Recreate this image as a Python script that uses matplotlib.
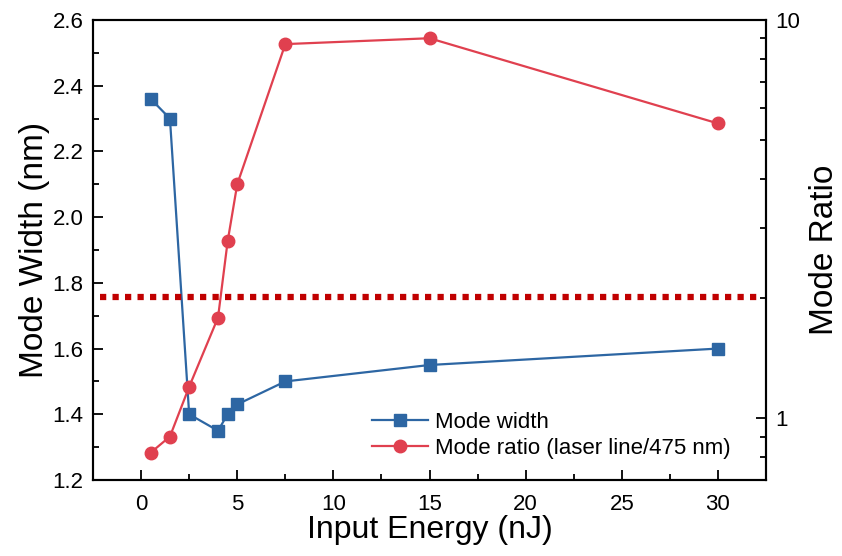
import matplotlib.pyplot as plt
from matplotlib.ticker import MultipleLocator, FixedLocator, NullFormatter

plt.rcParams['font.family'] = ['Liberation Sans', 'DejaVu Sans']

energy = [0.5, 1.5, 2.5, 4, 4.5, 5, 7.5, 15, 30]
mode_width = [2.36, 2.30, 1.40, 1.35, 1.40, 1.43, 1.50, 1.55, 1.60]
mode_ratio = [0.82, 0.90, 1.20, 1.79, 2.78, 3.87, 8.7, 9.0, 5.5]
threshold = 1.757

blue = "#2d66a3"
red = "#e0404f"

fig = plt.figure(figsize=(8.42, 5.56), dpi=100)
ax = fig.add_axes([0.1105, 0.1367, 0.7992, 0.8273])
ax2 = ax.twinx()

l1, = ax.plot(energy, mode_width, color=blue, marker="s", ms=9, lw=1.6,
              label="Mode width")
l2, = ax2.plot(energy, mode_ratio, color=red, marker="o", ms=9, lw=1.6,
               label="Mode ratio (laser line/475 nm)")
ax.axhline(threshold, xmin=0.01, xmax=0.99, color="#c00000", lw=4.5,
           ls=(0, (1, 1.0)))

ax.set_xlim(-2.5, 32.5)
ax.set_ylim(1.2, 2.6)
ax2.set_yscale("log")
ax2.set_ylim(0.7, 10)

ax.xaxis.set_major_locator(MultipleLocator(5))
ax.xaxis.set_minor_locator(MultipleLocator(2.5))
ax.yaxis.set_major_locator(MultipleLocator(0.2))
ax.yaxis.set_minor_locator(MultipleLocator(0.1))
ax.yaxis.set_major_formatter(plt.FormatStrFormatter("%.1f"))
ax2.yaxis.set_major_locator(FixedLocator([1, 10]))
ax2.yaxis.set_minor_locator(FixedLocator([0.7, 0.8, 0.9, 2, 3, 4, 5, 6, 7, 8, 9]))
ax2.yaxis.set_minor_formatter(NullFormatter())
ax2.yaxis.set_major_formatter(plt.FuncFormatter(lambda v, p: "%g" % v))

for a in (ax, ax2):
    a.tick_params(which="both", direction="in", labelsize=16, width=1.3)
    a.tick_params(which="major", length=7.5)
    a.tick_params(which="minor", length=4.5)
    for s in a.spines.values():
        s.set_linewidth(1.5)
ax.tick_params(axis="x", pad=10)
ax.tick_params(axis="y", pad=7)
ax2.tick_params(axis="y", pad=7)

ax.set_xlabel("Input Energy (nJ)", fontsize=23, labelpad=0)
ax.set_ylabel("Mode Width (nm)", fontsize=24, labelpad=2)
ax2.set_ylabel("Mode Ratio", fontsize=24, labelpad=6)

ax2.legend(handles=[l1, l2], loc="lower right", bbox_to_anchor=(0.96, 0.026),
           borderaxespad=0, frameon=False, fontsize=16, handlelength=2.5,
           handletextpad=0.3, labelspacing=0.25)

fig.savefig("out.png", dpi=100)
